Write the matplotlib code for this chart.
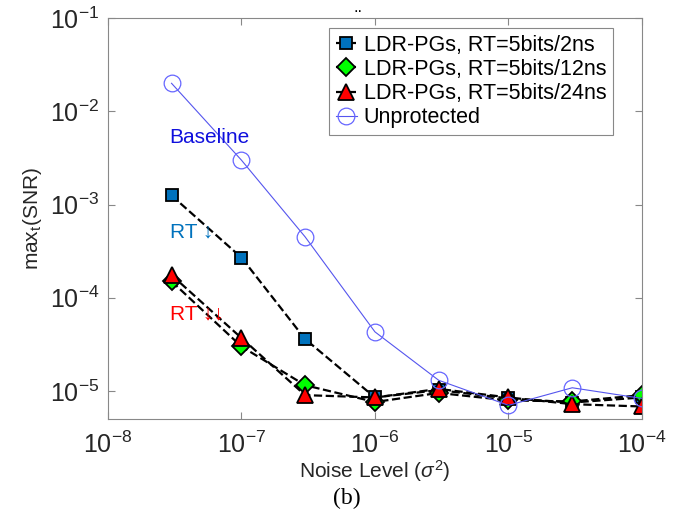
import matplotlib.pyplot as plt
import numpy as np

plt.rcParams['font.family'] = ['Liberation Sans', 'DejaVu Sans']
plt.rcParams['mathtext.fontset'] = 'custom'
plt.rcParams['mathtext.rm'] = 'Liberation Sans'
plt.rcParams['mathtext.it'] = 'Liberation Sans:italic'
plt.rcParams['mathtext.default'] = 'regular'
plt.rcParams['axes.unicode_minus'] = False

noise = [3e-8, 1e-7, 3e-7, 1e-6, 3e-6, 1e-5, 3e-5, 1e-4]
snr_2ns = [1.25e-3, 2.7e-4, 3.6e-5, 8.5e-6, 1.02e-5, 8.3e-6, 7.5e-6, 8.5e-6]
snr_12ns = [1.5e-4, 3.0e-5, 1.15e-5, 7.6e-6, 9.5e-6, 7.9e-6, 7.7e-6, 9.0e-6]
snr_24ns = [1.75e-4, 3.7e-5, 9.0e-6, 8.5e-6, 1.05e-5, 8.5e-6, 7.2e-6, 6.8e-6]
snr_unprot = [2.0e-2, 3.0e-3, 4.5e-4, 4.3e-5, 1.3e-5, 7.0e-6, 1.08e-5, 8.3e-6]

labels = ['LDR-PGs, RT=5bits/2ns', 'LDR-PGs, RT=5bits/12ns',
          'LDR-PGs, RT=5bits/24ns', 'Unprotected']

fig = plt.figure(figsize=(6.78, 5.19), dpi=100)
ax = fig.add_axes([0.159, 0.193, 0.788, 0.772])

ax.plot(noise, snr_2ns, '--s', color='black', lw=1.6, ms=9,
        mfc='#0072BD', mec='black', mew=1.3, label=labels[0])
ax.plot(noise, snr_12ns, '--D', color='black', lw=1.6, ms=9,
        mfc='#00FF00', mec='black', mew=1.3, label=labels[1])
ax.plot(noise, snr_24ns, '--^', color='black', lw=1.6, ms=11,
        mfc='red', mec='black', mew=1.3, label=labels[2])
ax.plot(noise, snr_unprot, '-o', color='#5555ee', lw=0.8, ms=12,
        mfc='none', mec='#6666ff', mew=0.9, label=labels[3])

ax.set_xscale('log')
ax.set_yscale('log')
ax.set_xlim(1e-8, 1e-4)
ax.set_ylim(10 ** -5.3, 1e-1)
ax.set_xticks([1e-8, 1e-7, 1e-6, 1e-5, 1e-4])
ax.set_xticklabels(['$10^{-%d}$' % k for k in [8, 7, 6, 5, 4]])
ax.set_yticks([1e-5, 1e-4, 1e-3, 1e-2, 1e-1])
ax.set_yticklabels(['$10^{-%d}$' % k for k in [5, 4, 3, 2, 1]])
ax.minorticks_off()
ax.tick_params(direction='in', top=True, right=True, labelsize=18,
               color='#888888', length=5, labelcolor='#262626')
ax.tick_params(axis='x', pad=9)
ax.tick_params(axis='y', pad=6)
for s in ax.spines.values():
    s.set_color('#888888')

ax.set_xlabel(r'Noise Level ($\mathit{\sigma}^2$)', fontsize=15, color='#262626', labelpad=0)
ax.set_ylabel(r'max$_{t}$(SNR)', fontsize=15, color='#262626', labelpad=4)

ax.text(2.9e-8, 5.2e-3, 'Baseline', color='#1010dd', fontsize=15, va='center')
ax.text(2.9e-8, 5.0e-4, 'RT ↓', color='#0072BD', fontsize=15, va='center',
        family=['Liberation Sans', 'DejaVu Sans'])
ax.text(2.9e-8, 6.7e-5, 'RT ↓↓', color='red', fontsize=15, va='center',
        family=['Liberation Sans', 'DejaVu Sans'])

leg = ax.legend(loc='upper right', fontsize=15.5, handlelength=1.0, handletextpad=0.3,
                borderpad=0.3, labelspacing=0.15, fancybox=False,
                edgecolor='#888888', framealpha=1, bbox_to_anchor=(0.945, 0.975),
                borderaxespad=0)
leg.get_frame().set_linewidth(0.8)

fig.text(0.528, 0.985, '..', ha='center', va='center', fontsize=12)
fig.text(0.512, 0.04, '(b)', ha='center', va='center', fontsize=17,
         family='Liberation Serif')

fig.savefig('out.png', dpi=100)
